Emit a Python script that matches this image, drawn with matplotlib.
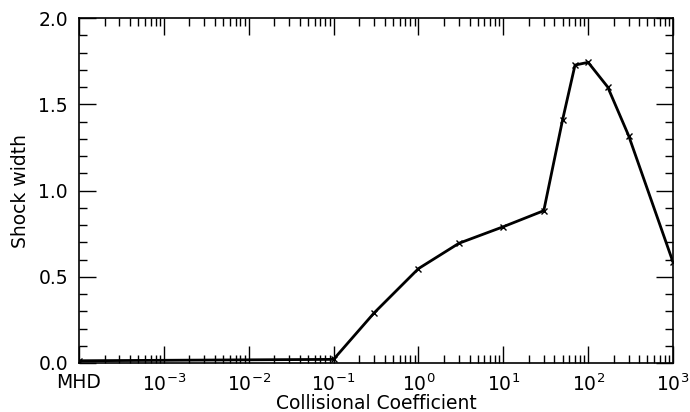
import matplotlib
matplotlib.use("Agg")
import matplotlib.pyplot as plt
from matplotlib.ticker import LogLocator, FixedLocator, MultipleLocator, NullFormatter

coef = [1e-4, 0.1, 0.3, 1, 3, 10, 30, 50, 70, 100, 170, 300, 1000]
width = [0.013, 0.021, 0.29, 0.547, 0.694, 0.79, 0.883, 1.41, 1.727, 1.743, 1.60, 1.318, 0.585]
xtick_vals = [1e-4, 1e-3, 1e-2, 1e-1, 1e0, 1e1, 1e2, 1e3]
xtick_labels = ["MHD", r"$10^{-3}$", r"$10^{-2}$", r"$10^{-1}$", r"$10^{0}$", r"$10^{1}$", r"$10^{2}$", r"$10^{3}$"]
ytick_vals = [0.0, 0.5, 1.0, 1.5, 2.0]

fs = 13.5
fig = plt.figure(figsize=(6.9, 4.12), dpi=100)
ax = fig.add_axes([79/690, 49/412, 594/690, 345/412])
ax.plot(coef, width, color="black", lw=2, marker="x", ms=5, mew=1)
ax.set_xscale("log")
ax.set_xlim(1e-4, 1e3)
ax.set_ylim(0, 2.0)
ax.xaxis.set_major_locator(FixedLocator(xtick_vals))
ax.set_xticklabels(xtick_labels)
ax.xaxis.set_minor_locator(LogLocator(base=10, subs=range(2, 10), numticks=20))
ax.xaxis.set_minor_formatter(NullFormatter())
ax.set_yticks(ytick_vals)
ax.set_yticklabels([f"{v:.1f}" for v in ytick_vals])
ax.yaxis.set_minor_locator(MultipleLocator(0.1))
ax.tick_params(which="both", direction="in", top=True, right=True, labelsize=fs)
ax.tick_params(axis="x", pad=7.5)
ax.tick_params(axis="y", pad=8)
ax.tick_params(which="major", length=12, width=1)
ax.tick_params(which="minor", length=6, width=1)
for s in ax.spines.values():
    s.set_linewidth(1.2)
ax.set_xlabel("Collisional Coefficient", fontsize=fs, labelpad=-0.5)
ax.set_ylabel("Shock width", fontsize=fs, labelpad=6)
fig.savefig("out.png", dpi=100)
